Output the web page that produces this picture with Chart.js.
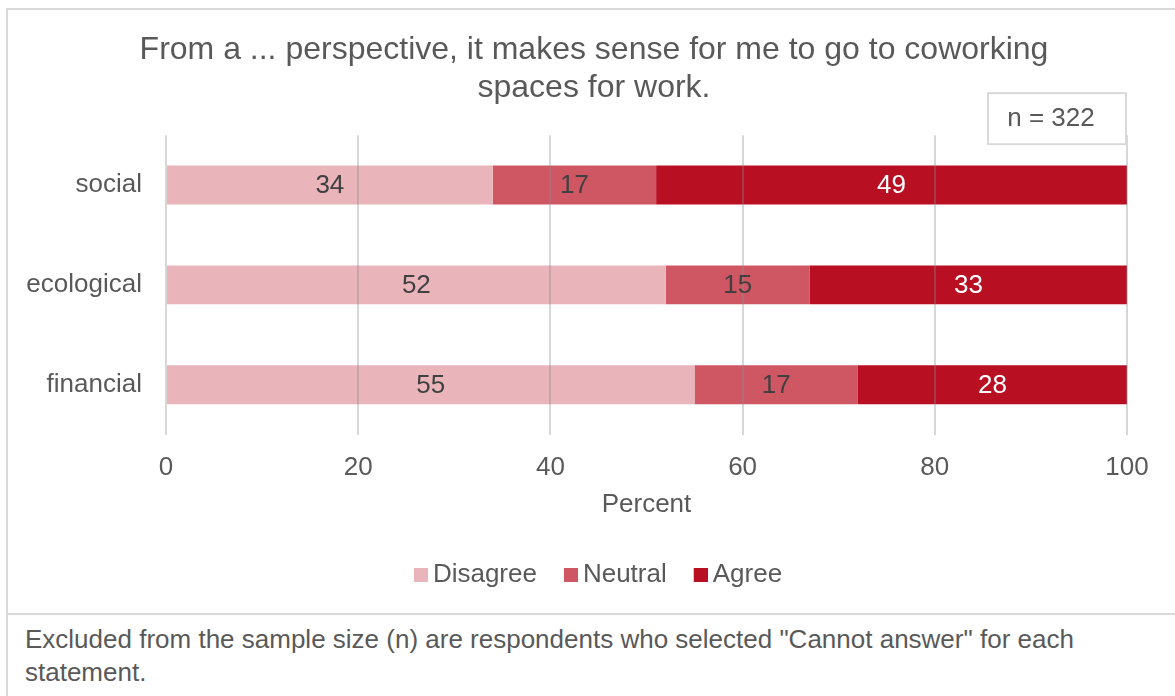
<!DOCTYPE html>
<html>
<head>
<meta charset="utf-8">
<title>Coworking perspectives</title>
<script src="https://cdn.jsdelivr.net/npm/chart.js@4.4.1/dist/chart.umd.min.js"></script>
<style>
  html, body { margin: 0; padding: 0; background: #fff; }
  body { width: 1175px; height: 696px; position: relative; overflow: hidden;
         font-family: "Liberation Sans", Arial, sans-serif; }
  #frame { position: absolute; left: 6px; top: 8px; width: 1200px; height: 603px;
           border-top: 2px solid #d9d9d9; border-left: 2px solid #d9d9d9; border-bottom: 2px solid #d9d9d9; }
  #noteFrame { position: absolute; left: 6px; top: 613px; width: 1200px; height: 83px;
               border-left: 2px solid #d9d9d9; }
  #note { position: absolute; left: 25px; top: 623px; font-size: 26px; line-height: 33px;
          color: #595959; white-space: nowrap; }
  #chart { position: absolute; left: 0; top: 0; }
</style>
</head>
<body>
<div id="frame"></div>
<div id="noteFrame"></div>
<div id="note">Excluded from the sample size (n) are respondents who selected "Cannot answer" for each<br>statement.</div>
<canvas id="chart" width="1175" height="696"></canvas>
<script>
// Survey answers per perspective (percent of respondents)
const categories = ['social', 'ecological', 'financial'];
const seriesNames = ['Disagree', 'Neutral', 'Agree'];
const disagreeValues = [34, 52, 55];
const neutralValues = [17, 15, 17];
const agreeValues = [49, 33, 28];
const sampleSizeLabel = 'n = 322';
const titleLines = ['From a ... perspective, it makes sense for me to go to coworking', 'spaces for work.'];

const seriesColors = ['#E9B5BA', '#CF5663', '#B80F22'];
const labelColors = ['#404040', '#404040', '#ffffff'];
const textColor = '#595959';
const fontFamily = '"Liberation Sans", Arial, sans-serif';

// Legend swatches: a 14px square placed at the right of a wider transparent
// image, so the square sits close to its label text
function makeSwatch(color) {
  const c = document.createElement('canvas');
  c.width = 30; c.height = 14;
  const g = c.getContext('2d');
  g.fillStyle = color;
  g.fillRect(16, 0, 14, 14);
  return c;
}
const legendSwatches = seriesColors.map(makeSwatch);

// Writes each segment's value in the middle of its bar
const valueLabels = {
  id: 'valueLabels',
  afterDraw(chart) {
    const ctx = chart.ctx;
    ctx.save();
    ctx.font = '26px ' + fontFamily;
    ctx.textAlign = 'center';
    ctx.textBaseline = 'middle';
    chart.data.datasets.forEach((ds, i) => {
      const meta = chart.getDatasetMeta(i);
      meta.data.forEach((bar, j) => {
        const cx = (bar.x + bar.base) / 2;
        ctx.fillStyle = labelColors[i];
        ctx.fillText(String(ds.data[j]), cx, bar.y + 1);
      });
    });
    ctx.restore();
  }
};

// Sample size box at the top right of the plot
const sampleBox = {
  id: 'sampleBox',
  afterDraw(chart) {
    const { right, top } = chart.chartArea;
    const ctx = chart.ctx;
    const w = 138, h = 51;
    const x = right - w - 1, y = top - 42;
    ctx.save();
    ctx.fillStyle = '#ffffff';
    ctx.fillRect(x, y, w, h);
    ctx.strokeStyle = '#d9d9d9';
    ctx.lineWidth = 2;
    ctx.strokeRect(x, y, w, h);
    ctx.fillStyle = textColor;
    ctx.font = '26px ' + fontFamily;
    ctx.textAlign = 'center';
    ctx.textBaseline = 'middle';
    ctx.fillText(sampleSizeLabel, x + 63, y + 26);
    ctx.restore();
  }
};

// Let the category labels use the free space left of the axis box
const wideCategoryLabels = {
  id: 'wideCategoryLabels',
  afterLayout(chart) {
    chart.scales.y.left = 0;
  }
};

const seriesValues = [disagreeValues, neutralValues, agreeValues];

new Chart(document.getElementById('chart'), {
  type: 'bar',
  data: {
    labels: categories,
    datasets: seriesNames.map((name, i) => ({
      label: name,
      data: seriesValues[i],
      backgroundColor: seriesColors[i],
      borderWidth: 0,
      barPercentage: 0.39,
      categoryPercentage: 1.0
    }))
  },
  options: {
    indexAxis: 'y',
    responsive: false,
    animation: false,
    devicePixelRatio: 1,
    layout: { padding: { top: 10, bottom: 98, left: 61, right: 48 } },
    scales: {
      x: {
        stacked: true,
        min: 0,
        max: 100,
        ticks: { stepSize: 20, padding: 18, color: textColor, font: { family: fontFamily, size: 26 } },
        grid: { color: 'rgba(140,140,140,0.35)', lineWidth: 2, drawTicks: false, z: 1 },
        border: { display: false },
        title: {
          display: true, text: 'Percent', color: textColor,
          font: { family: fontFamily, size: 26 },
          padding: { top: -13, bottom: 23 }
        }
      },
      y: {
        stacked: true,
        grid: { display: false, drawTicks: false },
        border: { display: false },
        ticks: { padding: 24, color: textColor, font: { family: fontFamily, size: 26 } },
        afterFit(scale) { scale.width = 105; }
      }
    },
    plugins: {
      title: {
        display: true,
        text: titleLines,
        color: textColor,
        font: { family: fontFamily, size: 32, weight: 'normal', lineHeight: 1.19 },
        padding: { top: 21, bottom: 28 }
      },
      legend: {
        position: 'bottom',
        labels: {
          usePointStyle: true,
          boxWidth: 14, boxHeight: 14, padding: 19, color: textColor,
          font: { family: fontFamily, size: 26 },
          generateLabels(chart) {
            const items = Chart.defaults.plugins.legend.labels.generateLabels(chart);
            items.forEach((item, i) => { item.pointStyle = legendSwatches[i]; });
            return items;
          }
        }
      },
      tooltip: { enabled: false }
    }
  },
  plugins: [valueLabels, sampleBox, wideCategoryLabels]
});
</script>
</body>
</html>
